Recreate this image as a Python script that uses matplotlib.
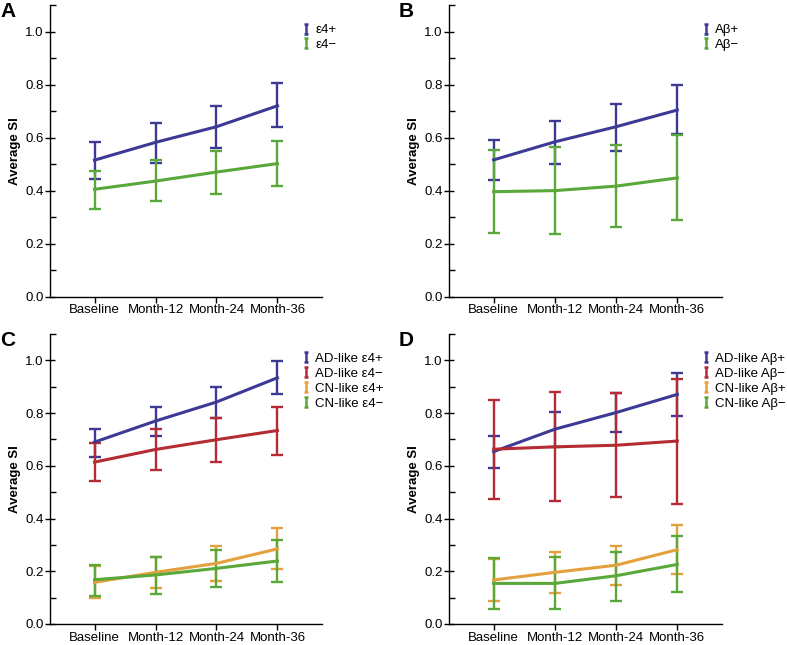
import matplotlib
matplotlib.use("Agg")
import matplotlib.pyplot as plt
from matplotlib.path import Path
from matplotlib.lines import Line2D
from matplotlib.ticker import MultipleLocator
import numpy as np

plt.rcParams['font.family'] = ['Liberation Sans', 'DejaVu Sans']

timepoints = ["Baseline", "Month-12", "Month-24", "Month-36"]

# Panel A
a_labels = ["ε4+", "ε4−"]
a_mean = [[0.515, 0.582, 0.641, 0.720], [0.405, 0.436, 0.470, 0.502]]
a_upper = [[0.582, 0.655, 0.718, 0.805], [0.474, 0.516, 0.549, 0.588]]
a_lower = [[0.445, 0.506, 0.561, 0.640], [0.331, 0.360, 0.389, 0.416]]

# Panel B
b_labels = ["Aβ+", "Aβ−"]
b_mean = [[0.516, 0.584, 0.641, 0.704], [0.396, 0.400, 0.417, 0.448]]
b_upper = [[0.590, 0.664, 0.727, 0.799], [0.552, 0.563, 0.573, 0.609]]
b_lower = [[0.441, 0.502, 0.550, 0.612], [0.240, 0.238, 0.262, 0.288]]

# Panel C
c_labels = ["AD-like ε4+", "AD-like ε4−", "CN-like ε4+", "CN-like ε4−"]
c_mean = [[0.690, 0.770, 0.842, 0.934], [0.614, 0.662, 0.699, 0.734],
          [0.158, 0.196, 0.230, 0.285], [0.168, 0.186, 0.211, 0.239]]
c_upper = [[0.740, 0.825, 0.899, 0.996], [0.685, 0.739, 0.781, 0.825],
           [0.219, 0.254, 0.294, 0.365], [0.224, 0.253, 0.281, 0.319]]
c_lower = [[0.635, 0.713, 0.782, 0.873], [0.543, 0.584, 0.615, 0.642],
           [0.097, 0.138, 0.162, 0.209], [0.108, 0.114, 0.142, 0.161]]

# Panel D
d_labels = ["AD-like Aβ+", "AD-like Aβ−", "CN-like Aβ+", "CN-like Aβ−"]
d_mean = [[0.654, 0.739, 0.802, 0.871], [0.663, 0.672, 0.678, 0.694],
          [0.167, 0.196, 0.223, 0.282], [0.154, 0.154, 0.183, 0.226]]
d_upper = [[0.713, 0.804, 0.878, 0.953], [0.850, 0.880, 0.878, 0.931],
           [0.246, 0.274, 0.297, 0.375], [0.249, 0.253, 0.274, 0.332]]
d_lower = [[0.593, 0.673, 0.729, 0.789], [0.476, 0.465, 0.480, 0.457],
           [0.088, 0.116, 0.148, 0.189], [0.057, 0.057, 0.088, 0.122]]

BLUE = "#3c3a94"
RED = "#b52b33"
ORANGE = "#e3a03c"
GREEN = "#5aa83a"

ibeam = Path([(-0.5, 1), (0.5, 1), (0, 1), (0, -1), (-0.5, -1), (0.5, -1)],
             [Path.MOVETO, Path.LINETO, Path.MOVETO, Path.LINETO, Path.MOVETO, Path.LINETO])

fig = plt.figure(figsize=(7.87, 6.45), dpi=100)

rects = [
    [50/787, 1-296.7/645, 272/787, 291.7/645],
    [449/787, 1-296.7/645, 273/787, 291.7/645],
    [50/787, 1-624/645, 272/787, 290/645],
    [449/787, 1-624/645, 273/787, 290/645],
]
panels = [
    ("A", a_labels, a_mean, a_upper, a_lower, [BLUE, GREEN]),
    ("B", b_labels, b_mean, b_upper, b_lower, [BLUE, GREEN]),
    ("C", c_labels, c_mean, c_upper, c_lower, [BLUE, RED, ORANGE, GREEN]),
    ("D", d_labels, d_mean, d_upper, d_lower, [BLUE, RED, ORANGE, GREEN]),
]

x = np.arange(len(timepoints))
for rect, (letter, labels, means, ups, lows, colors) in zip(rects, panels):
    ax = fig.add_axes(rect)
    handles = []
    for lab, m, u, l, col in zip(labels, means, ups, lows, colors):
        m = np.array(m); u = np.array(u); l = np.array(l)
        ax.errorbar(x, m, yerr=[m - l, u - m], color=col, lw=2.2,
                    elinewidth=1.7, capsize=4, capthick=1.7)
        handles.append(Line2D([], [], marker=ibeam, linestyle='None', color=col,
                              markerfacecolor='none', markersize=6.5,
                              markeredgewidth=1.8, label=lab))
    ax.set_xlim(-0.73, 3.73)
    ax.set_ylim(0, 1.1)
    ax.set_xticks(x)
    ax.set_xticklabels(timepoints, fontsize=9.5)
    ax.yaxis.set_major_locator(MultipleLocator(0.2))
    ax.yaxis.set_minor_locator(MultipleLocator(0.1))
    ax.set_yticklabels([f"{v:.1f}" for v in ax.get_yticks()], fontsize=9.5)
    ax.tick_params(axis='y', which='major', direction='inout', length=7, width=1, pad=1)
    ax.tick_params(axis='y', which='minor', direction='in', length=4, width=1)
    ax.tick_params(axis='x', which='major', direction='out', length=4.5, width=1, pad=1)
    for s in ['top', 'right']:
        ax.spines[s].set_visible(False)
    for s in ['left', 'bottom']:
        ax.spines[s].set_linewidth(1.0)
    ax.set_ylabel("Average SI", fontsize=9.5, fontweight='bold', labelpad=3)
    ax.legend(handles=handles, loc='upper left', bbox_to_anchor=(0.925, 0.935),
              frameon=False, fontsize=9.5, handlelength=0.7, handletextpad=0.35,
              borderpad=0, borderaxespad=0, labelspacing=0.2)
    bb = ax.get_position()
    fig.text(bb.x0 - 50/787, bb.y1 + 3/645, letter, fontsize=15, fontweight='bold',
             va='top', ha='left')

fig.savefig("out.png", dpi=100)
